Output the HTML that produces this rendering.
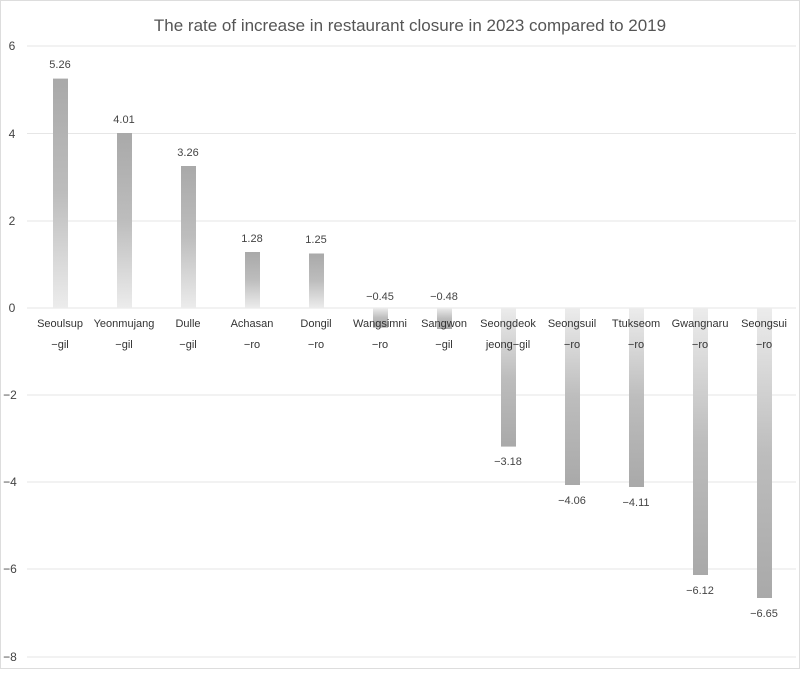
<!DOCTYPE html>
<html><head><meta charset="utf-8"><style>
html,body{margin:0;padding:0;background:#fff}
</style></head><body>
<svg width="800" height="669" viewBox="0 0 800 669" xmlns="http://www.w3.org/2000/svg" font-family="Liberation Sans, NanumGothic, sans-serif">
<defs>
<linearGradient id="gp" x1="0" y1="1" x2="0" y2="0">
<stop offset="0" stop-color="#ececec"/><stop offset="0.5" stop-color="#bdbdbd"/><stop offset="1" stop-color="#a9a9a9"/>
</linearGradient>
<linearGradient id="gn" x1="0" y1="0" x2="0" y2="1">
<stop offset="0" stop-color="#ececec"/><stop offset="0.5" stop-color="#bdbdbd"/><stop offset="1" stop-color="#a9a9a9"/>
</linearGradient>
</defs>
<rect x="0.5" y="0.5" width="799" height="668" fill="#fff" stroke="#ddd"/>
<text x="410" y="31" text-anchor="middle" font-size="17" fill="#555">The rate of increase in restaurant closure in 2023 compared to 2019</text>
<g stroke="#e6e6e6" stroke-width="1">
<line x1="27" x2="796" y1="46" y2="46"/>
<line x1="27" x2="796" y1="133.5" y2="133.5"/>
<line x1="27" x2="796" y1="221" y2="221"/>
<line x1="27" x2="796" y1="308" y2="308"/>
<line x1="27" x2="796" y1="395" y2="395"/>
<line x1="27" x2="796" y1="482" y2="482"/>
<line x1="27" x2="796" y1="569" y2="569"/>
<line x1="27" x2="796" y1="657" y2="657"/>
</g>
<g font-size="12" fill="#444" text-anchor="middle">
<text x="12" y="50">6</text><text x="12" y="138">4</text><text x="12" y="225">2</text><text x="12" y="312">0</text>
<text x="10" y="399">−2</text><text x="10" y="486">−4</text><text x="10" y="573">−6</text><text x="10" y="661">−8</text>
</g>
<g id="bars" font-size="11" fill="#444" text-anchor="middle">
<rect x="53" y="78.6" width="15" height="229.4" fill="url(#gp)"/><text x="60" y="68">5.26</text>
<rect x="117" y="133" width="15" height="175" fill="url(#gp)"/><text x="124" y="123">4.01</text>
<rect x="181" y="166" width="15" height="142" fill="url(#gp)"/><text x="188" y="156">3.26</text>
<rect x="245" y="252" width="15" height="56" fill="url(#gp)"/><text x="252" y="242">1.28</text>
<rect x="309" y="253.5" width="15" height="54.5" fill="url(#gp)"/><text x="316" y="243">1.25</text>
<rect x="373" y="308" width="15" height="19.6" fill="url(#gn)"/><text x="380" y="300">−0.45</text>
<rect x="437" y="308" width="15" height="21" fill="url(#gn)"/><text x="444" y="300">−0.48</text>
<rect x="501" y="308" width="15" height="138.6" fill="url(#gn)"/><text x="508" y="465">−3.18</text>
<rect x="565" y="308" width="15" height="177" fill="url(#gn)"/><text x="572" y="504">−4.06</text>
<rect x="629" y="308" width="15" height="179" fill="url(#gn)"/><text x="636" y="506">−4.11</text>
<rect x="693" y="308" width="15" height="267" fill="url(#gn)"/><text x="700" y="594">−6.12</text>
<rect x="757" y="308" width="15" height="290" fill="url(#gn)"/><text x="764" y="617">−6.65</text>
</g>
<g font-size="11" fill="#333" text-anchor="middle">
<text x="60" y="327">Seoulsup</text><text x="60" y="348">−gil</text>
<text x="124" y="327">Yeonmujang</text><text x="124" y="348">−gil</text>
<text x="188" y="327">Dulle</text><text x="188" y="348">−gil</text>
<text x="252" y="327">Achasan</text><text x="252" y="348">−ro</text>
<text x="316" y="327">Dongil</text><text x="316" y="348">−ro</text>
<text x="380" y="327">Wangsimni</text><text x="380" y="348">−ro</text>
<text x="444" y="327">Sangwon</text><text x="444" y="348">−gil</text>
<text x="508" y="327">Seongdeok</text><text x="508" y="348">jeong−gil</text>
<text x="572" y="327">Seongsuil</text><text x="572" y="348">−ro</text>
<text x="636" y="327">Ttukseom</text><text x="636" y="348">−ro</text>
<text x="700" y="327">Gwangnaru</text><text x="700" y="348">−ro</text>
<text x="764" y="327">Seongsui</text><text x="764" y="348">−ro</text>
</g>
</svg>
</body></html>
